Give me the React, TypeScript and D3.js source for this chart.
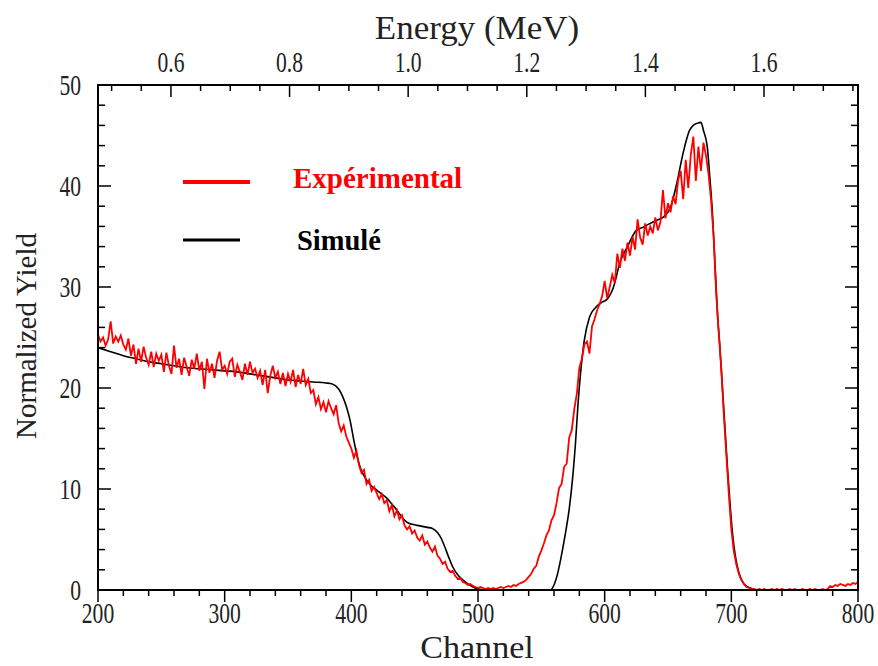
import React from "react";
import * as d3 from "d3";

const W = 878;
const H = 666;

const channelTicks = [200, 300, 400, 500, 600, 700, 800];
const yieldTicks = [0, 10, 20, 30, 40, 50];
const energyTicks = [0.6, 0.8, 1.0, 1.2, 1.4, 1.6];
const energyDomain = [0.477, 1.7585];

const legendLabels = ["Expérimental", "Simulé"];

// Experimental spectrum, one value every 2 channels from 200 to 800
const expChannelStart = 200;
const expChannelStep = 2;
const expYield = [
  25.3, 24.6, 25.0, 24.2, 24.8, 26.6, 24.4, 25.1, 24.6, 25.2,
  24.3, 23.8, 24.9, 23.2, 24.3, 22.4, 23.9, 22.6, 24.1, 23.0,
  22.3, 23.6, 22.1, 23.4, 22.7, 23.3, 21.6, 23.5, 22.2, 21.4,
  24.2, 22.0, 22.9, 21.3, 23.0, 22.1, 21.2, 22.8, 21.9, 23.4,
  21.7, 22.6, 19.9, 22.9, 21.5, 22.4, 21.0, 22.7, 23.6, 21.8,
  22.2, 21.4, 22.6, 22.9, 21.1, 22.3, 21.6, 20.8, 22.4, 21.3,
  22.6, 21.5, 21.9, 21.0, 21.7, 20.3, 21.8, 19.5, 21.2, 22.2,
  21.0, 21.6, 20.4, 21.5, 20.2, 21.4, 20.6, 21.8, 20.1, 21.3,
  20.4, 21.9, 20.3, 20.9, 19.5, 19.8, 18.4, 19.1, 17.9, 18.6,
  17.6, 18.7, 18.0, 17.4, 18.3, 16.5, 15.7, 16.3, 15.2, 14.6,
  14.0, 13.1, 13.8, 12.4, 11.6, 11.9, 10.5, 10.9, 9.8, 10.2,
  9.6, 9.0, 9.5, 8.6, 8.9, 7.8, 8.4, 7.3, 7.9, 7.0,
  7.4, 6.4, 6.0, 6.3, 5.6, 5.9, 5.2, 4.9, 5.4, 4.5,
  4.8, 4.2, 3.8, 4.3, 3.4, 3.1, 2.6, 2.8, 2.1, 1.8,
  1.9, 1.4, 1.1, 1.2, 0.8, 0.7, 0.5, 0.6, 0.4, 0.3,
  0.2, 0.3, 0.2, 0.1, 0.2, 0.1, 0.2, 0.1, 0.2, 0.3,
  0.2, 0.3, 0.4, 0.3, 0.5, 0.4, 0.6, 0.7, 0.8, 1.0,
  1.3, 1.6, 2.1, 2.4, 3.3, 3.9, 4.6, 5.4, 5.9, 6.9,
  7.4, 8.6, 10.1, 10.5, 12.2, 12.5, 15.1, 15.8, 17.9, 19.4,
  22.0, 22.9, 24.3, 24.6, 23.4, 26.1, 26.8, 27.7, 28.3, 29.1,
  30.6, 28.9, 30.0, 31.2, 30.4, 33.3, 31.9, 33.8, 32.6, 34.4,
  33.1, 35.0, 33.7, 36.7, 34.9, 34.2, 36.3, 35.1, 36.0, 35.3,
  36.9, 35.6, 36.4, 39.6, 36.8, 38.3, 37.4, 39.0, 38.2, 40.6,
  41.5, 38.7, 42.6, 39.8, 43.1, 44.9, 40.5, 43.9, 41.5, 44.3,
  43.0, 41.2, 38.6, 35.0, 29.5, 25.5, 22.0, 17.5, 13.5, 9.5,
  6.0, 3.8, 2.5, 1.6, 1.0, 0.6, 0.3, 0.2, 0.1, 0.1,
  0.0, 0.1, 0.0, 0.1, 0.0, 0.0, 0.1, 0.0, 0.1, 0.0,
  0.1, 0.0, 0.0, 0.1, 0.0, 0.1, 0.0, 0.0, 0.1, 0.0,
  0.0, 0.1, 0.0, 0.1, 0.0, 0.0, 0.1, 0.0, 0.1, 0.4,
  0.3, 0.5, 0.4, 0.6, 0.5, 0.4, 0.6, 0.5, 0.7, 0.6,
  0.8,
];

// Simulated spectrum
const simChannel = [
  200, 210, 220, 230, 240, 250, 260, 270, 280, 290,
  300, 310, 320, 330, 340, 350, 360, 370, 380,
  385, 390, 393, 396, 399, 402, 405, 408, 412, 416,
  420, 424, 428, 432, 436, 440, 444, 448, 452, 456,
  460, 464, 468, 471, 474, 477, 480, 484, 488, 492,
  496, 500, 510, 520, 530, 540, 550, 557, 560, 563,
  566, 569, 572, 575, 577, 579, 581, 584, 588, 593,
  598, 602, 607, 612, 618, 625, 630, 636, 641, 646,
  652, 657, 662, 667, 670, 673, 676, 678, 681, 683,
  685, 687, 689, 691, 693, 695, 697, 699, 701, 703,
  705, 707, 710, 715, 720, 760, 800,
];
const simYield = [
  24.0, 23.6, 23.2, 22.9, 22.6, 22.4, 22.2, 22.0, 21.9, 21.8,
  21.7, 21.6, 21.4, 21.2, 21.0, 20.8, 20.7, 20.6, 20.5,
  20.4, 19.9, 19.2, 18.2, 16.8, 14.8, 13.0, 11.8, 10.9, 10.3,
  9.9, 9.5, 9.1, 8.5, 7.9, 7.2, 6.7, 6.5, 6.4, 6.3,
  6.2, 6.1, 5.7, 5.1, 4.2, 3.2, 2.3, 1.5, 1.0, 0.6,
  0.3, 0.1, 0, 0, 0, 0, 0, 0, 0.5, 1.7,
  3.5, 5.6, 8.0, 11.5, 14.6, 18.5, 21.5, 24.8, 27.0, 28.0,
  28.5, 28.8, 30.0, 32.4, 34.0, 35.6, 35.9, 36.3, 36.6, 36.9,
  37.9, 40.3, 43.3, 45.5, 46.0, 46.2, 46.3, 45.5, 43.9, 40.9,
  37.5, 32.5, 27.5, 24.0, 20.0, 16.0, 12.0, 8.5, 5.5, 3.5,
  2.2, 1.3, 0.6, 0.2, 0, 0, 0,
];

const L = 98, R = 858, T = 85, B = 590;
const serif = "'Liberation Serif', 'Times New Roman', serif";

export default function App() {
  const x = d3.scaleLinear().domain([200, 800]).range([L, R]);
  const y = d3.scaleLinear().domain([0, 50]).range([B, T]);
  const e = d3.scaleLinear().domain(energyDomain).range([L, R]);

  const expData = expYield.map((v, i) => [expChannelStart + i * expChannelStep, v] as [number, number]);
  const simData = simChannel.map((c, i) => [c, simYield[i]] as [number, number]);

  const expLine = d3.line<[number, number]>().x((d) => x(d[0])).y((d) => y(d[1])).curve(d3.curveLinear);
  const simLine = d3.line<[number, number]>().x((d) => x(d[0])).y((d) => y(d[1])).curve(d3.curveMonotoneX);

  const chMinor = d3.range(200, 801, 20);
  const yMinor = d3.range(0, 51, 2);
  const eMinor = d3.range(0.5, 1.76, 0.05);

  const tickFont = 30;
  const sx = 0.72;

  return (
    <div>
      <style>{`body{margin:0}`}</style>
      <svg width={W} height={H} style={{ display: "block", background: "#fff" }} fontFamily={serif}>
        {/* curves */}
        <path d={simLine(simData) || ""} fill="none" stroke="#000" strokeWidth={1.6} />
        <path d={expLine(expData) || ""} fill="none" stroke="#ff0000" strokeWidth={1.8} strokeLinejoin="miter" />

        {/* frame */}
        <rect x={L} y={T} width={R - L} height={B - T} fill="none" stroke="#000" strokeWidth={2} />

        {/* bottom ticks (outward) */}
        {chMinor.map((c) => {
          const major = c % 100 === 0;
          return <line key={"b" + c} x1={x(c)} x2={x(c)} y1={B} y2={B + (major ? 12 : 6)} stroke="#000" strokeWidth={1.5} />;
        })}
        {channelTicks.map((c) => (
          <text key={"bl" + c} transform={`translate(${x(c)},${613}) scale(${sx},1)`} textAnchor="middle" dominantBaseline="central" fontSize={tickFont} fill="#222">
            {c}
          </text>
        ))}

        {/* top energy ticks (inward) */}
        {eMinor.map((v, i) => {
          const major = energyTicks.some((t) => Math.abs(t - v) < 1e-6);
          return <line key={"t" + i} x1={e(v)} x2={e(v)} y1={T} y2={T + (major ? 12 : 6)} stroke="#000" strokeWidth={1.5} />;
        })}
        {energyTicks.map((v) => (
          <text key={"tl" + v} transform={`translate(${e(v)},${62}) scale(${sx},1)`} textAnchor="middle" dominantBaseline="central" fontSize={tickFont} fill="#222">
            {v.toFixed(1)}
          </text>
        ))}

        {/* left & right ticks (inward) */}
        {yMinor.map((v) => {
          const major = v % 10 === 0;
          const len = major ? 13 : 7;
          return (
            <g key={"y" + v}>
              <line x1={L} x2={L + len} y1={y(v)} y2={y(v)} stroke="#000" strokeWidth={1.5} />
              <line x1={R} x2={R - len} y1={y(v)} y2={y(v)} stroke="#000" strokeWidth={1.5} />
            </g>
          );
        })}
        {yieldTicks.map((v) => (
          <text key={"yl" + v} transform={`translate(${81},${y(v)}) scale(${sx},1)`} textAnchor="end" dominantBaseline="central" fontSize={tickFont} fill="#222">
            {v}
          </text>
        ))}

        {/* axis titles */}
        <text transform={`translate(${477},${28}) scale(1.06,1)`} textAnchor="middle" dominantBaseline="central" fontSize={33} fill="#222">
          Energy (MeV)
        </text>
        <text transform={`translate(${477},${648}) scale(1.1,1)`} textAnchor="middle" dominantBaseline="central" fontSize={31} fill="#222">
          Channel
        </text>
        <text transform={`translate(${26},${336}) rotate(-90)`} textAnchor="middle" dominantBaseline="central" fontSize={29} fill="#222">
          Normalized Yield
        </text>

        {/* legend */}
        <line x1={183} x2={250} y1={182} y2={182} stroke="#ff0000" strokeWidth={4} />
        <text x={293} y={188} fontSize={29} fontWeight="bold" fill="#ff0000">
          {legendLabels[0]}
        </text>
        <line x1={183} x2={240} y1={240} y2={240} stroke="#000" strokeWidth={3} />
        <text x={297} y={250} fontSize={28.5} fontWeight="bold" fill="#000">
          {legendLabels[1]}
        </text>
      </svg>
    </div>
  );
}
